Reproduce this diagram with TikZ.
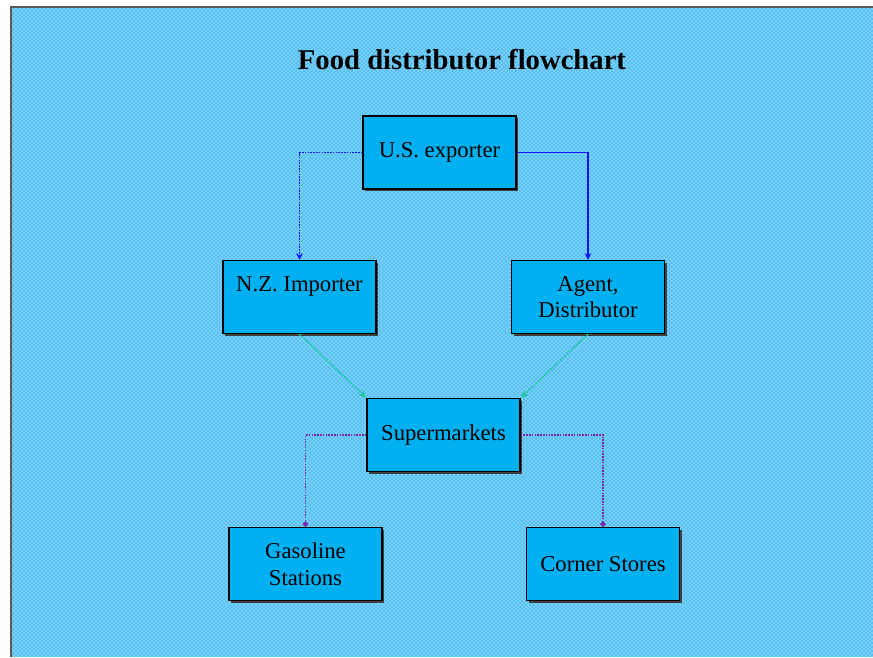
\documentclass[tikz,border=0pt]{standalone}
\usepackage{fontspec}
\setmainfont{Liberation Serif}
\usetikzlibrary{arrows.meta, positioning, shadows, patterns}
\definecolor{boxblue}{RGB}{0, 176, 240}
\definecolor{bgblue}{RGB}{85, 192, 242}
\definecolor{linkblue}{RGB}{20, 20, 250}
\definecolor{linkteal}{RGB}{30, 200, 165}
\definecolor{linkpurple}{RGB}{120, 40, 170}

\begin{document}
\begin{tikzpicture}[
  x=0.75pt, y=-0.75pt,
  fbox/.style={draw=black, line width=1pt, fill=boxblue, minimum width=114.75pt, minimum height=54.75pt, inner sep=0pt, align=center, font=\fontsize{17}{20}\selectfont, drop shadow={shadow xshift=1.8pt, shadow yshift=-1.8pt, fill=black!75, opacity=1}},
  bluelink/.style={draw=linkblue, line width=1.1pt, -{Stealth[length=5pt, width=5pt]}},
  teallink/.style={draw=linkteal, line width=1.3pt, densely dotted, -{Stealth[length=6pt, width=5pt]}},
  purplelink/.style={draw=linkpurple, line width=1.1pt, densely dotted, -{Circle[length=4pt]}}
]
  \useasboundingbox (0,0) rectangle (873,657);
  \fill[white] (0,0) rectangle (873,657);
  \fill[bgblue] (12,8) rectangle (873,657);
  \fill[pattern=crosshatch dots, pattern color=white] (12,8) rectangle (873,657);
  \draw[black!65, line width=1.5pt] (11,657) -- (11,7) -- (873,7);

  \node[font=\fontsize{21.5}{24}\selectfont\bfseries] (title) at (462, 60) {Food distributor flowchart};

  \node[fbox] (usexp) at (439.5, 152.5) {U.S. exporter};
  \node[fbox] (nzimp) at (299.5, 297) {N.Z. Importer\\~};
  \node[fbox] (agent) at (588, 297) {Agent,\\Distributor};
  \node[fbox] (superm) at (443.5, 435) {Supermarkets};
  \node[fbox] (gasol) at (305.5, 564) {Gasoline\\Stations};
  \node[fbox] (corner) at (603, 564) {Corner Stores};

  \draw[bluelink, densely dotted] (usexp.west) -| (nzimp.north);
  \draw[bluelink] (usexp.east) -| (agent.north);
  \draw[teallink] (nzimp.south) -- (superm.north west);
  \draw[teallink] (agent.south) -- (superm.north east);
  \draw[purplelink] (superm.west) -| (gasol.north);
  \draw[purplelink] (superm.east) -| (corner.north);
\end{tikzpicture}
\end{document}
